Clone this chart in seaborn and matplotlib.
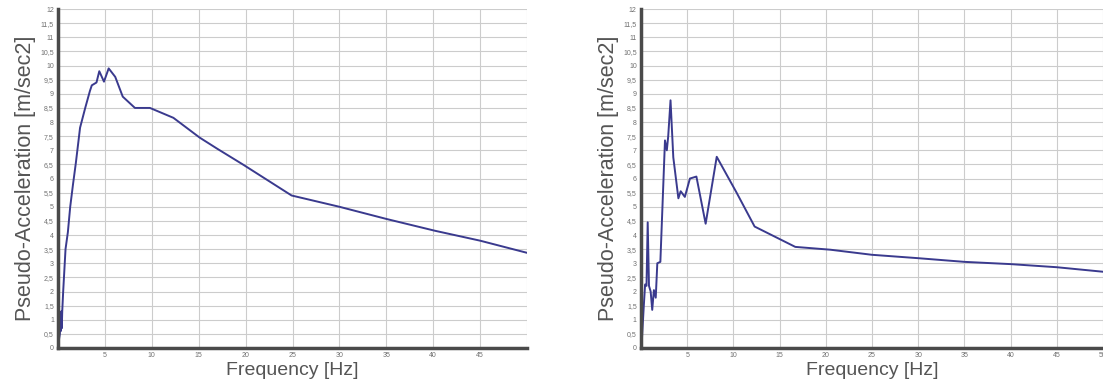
import numpy as np
import pandas as pd
import matplotlib
matplotlib.use("Agg")
import matplotlib.pyplot as plt
from matplotlib.ticker import FuncFormatter, MultipleLocator
import seaborn as sns

# ---- data ----
freq_left = [0, 0.1, 0.2, 0.25, 0.3, 0.35, 0.4, 0.45, 0.55, 0.8, 1.05, 1.3, 1.6, 1.9,
             2.35, 2.9, 3.4, 3.6, 4.1, 4.4, 4.9, 5.4, 6.1, 6.9, 8.2, 9.8, 12.3,
             15.1, 17.0, 19.7, 24.9, 30.0, 35.0, 40.2, 45.0, 50.0]
acc_left = [0, 0.3, 0.5, 1.2, 0.6, 1.3, 0.7, 1.3, 2.0, 3.5, 4.1, 5.0, 5.8, 6.55,
            7.8, 8.5, 9.1, 9.3, 9.4, 9.8, 9.43, 9.9, 9.6, 8.9, 8.5, 8.5, 8.15,
            7.45, 7.05, 6.5, 5.4, 5.0, 4.57, 4.15, 3.8, 3.37]

freq_right = [0, 0.1, 0.3, 0.45, 0.6, 0.73, 0.87, 1.05, 1.22, 1.4, 1.6, 1.77, 2.1,
              2.6, 2.8, 2.95, 3.2, 3.5, 4.05, 4.3, 4.75, 5.3, 6.0, 7.0, 8.2,
              10.35, 12.3, 16.7, 20.5, 25.0, 30.0, 35.0, 40.0, 45.0, 50.0]
acc_right = [0, 0.28, 1.45, 2.25, 2.2, 4.45, 2.2, 2.0, 1.35, 2.05, 1.78, 3.0, 3.05,
             7.35, 7.0, 7.5, 8.77, 6.75, 5.3, 5.55, 5.35, 6.0, 6.07, 4.4, 6.77,
             5.5, 4.3, 3.58, 3.48, 3.3, 3.18, 3.05, 2.97, 2.86, 2.7]

left_xticks = [5, 10, 15, 20, 25, 30, 35, 40, 45]
right_xticks = [5, 10, 15, 20, 25, 30, 35, 40, 45, 50]

sns.set_theme(style="whitegrid")
plt.rcParams['font.family'] = ['Liberation Sans', 'DejaVu Sans']

LINE = '#3a3a8e'
SPINE = '#4a4a4a'
GRID = '#cccccc'
TXT = '#555555'


def comma(v, pos):
    s = f"{v:g}"
    return s.replace('.', ',')


fig = plt.figure(figsize=(11.03, 3.90), dpi=100)
ax1 = fig.add_axes([0.0526, 0.1077, 0.4252, 0.869])
ax2 = fig.add_axes([0.5811, 0.1077, 0.4189, 0.869])

panels = [(ax1, freq_left, acc_left, left_xticks),
          (ax2, freq_right, acc_right, right_xticks)]

for ax, f, a, xt in panels:
    df = pd.DataFrame({'f': f, 'a': a})
    sns.lineplot(data=df, x='f', y='a', ax=ax, color=LINE, linewidth=1.4,
                 sort=False, estimator=None)
    ax.set_xlim(0, 50)
    ax.set_ylim(0, 12)
    ax.yaxis.set_major_locator(MultipleLocator(0.5))
    ax.yaxis.set_major_formatter(FuncFormatter(comma))
    ax.set_xticks(np.arange(0, 51, 5))
    ax.set_xticklabels([str(t) if t in xt else '' for t in range(0, 51, 5)])
    ax.grid(True, color=GRID, linewidth=0.8)
    ax.set_facecolor('white')
    for s in ['top', 'right']:
        ax.spines[s].set_visible(False)
    for s in ['left', 'bottom']:
        ax.spines[s].set_color(SPINE)
        ax.spines[s].set_linewidth(2.5)
    ax.tick_params(axis='both', length=0, labelsize=5, labelcolor='#707070', pad=3)
    ax.set_xlabel("Frequency [Hz]", fontsize=14, color=TXT, labelpad=2)
    ax.set_ylabel("Pseudo-Acceleration [m/sec2]", fontsize=15.5, color=TXT, labelpad=3)

fig.savefig("out.png", dpi=100, facecolor='white')
plt.close(fig)
